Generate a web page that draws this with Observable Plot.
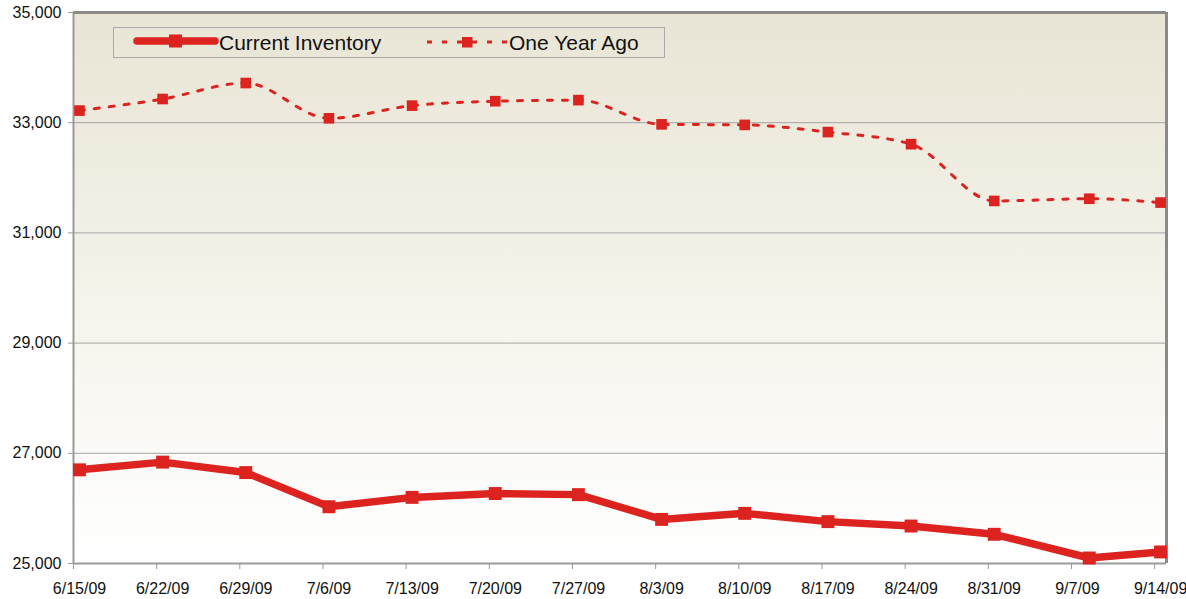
<!DOCTYPE html>
<html>
<head>
<meta charset="utf-8">
<script src="https://cdn.jsdelivr.net/npm/d3@7"></script>
<script src="https://cdn.jsdelivr.net/npm/@observablehq/plot@0.6"></script>
<style>
  html, body { margin: 0; padding: 0; background: #ffffff; }
  #wrap { position: relative; width: 1186px; height: 599px; font-family: "Liberation Sans", Arial, sans-serif; }
  #legend { position: absolute; left: 113px; top: 27px; width: 550px; height: 29px; border: 1px solid #a9a9a9; box-sizing: content-box; }
  .item { position: absolute; top: 0; height: 29px; display: flex; align-items: center; font-size: 21px; color: #111; }
  .item svg { display: block; }
</style>
</head>
<body>
<div id="wrap"></div>
<script>
// ---- data ----
const dates = ["2009-06-15","2009-06-22","2009-06-29","2009-07-06","2009-07-13","2009-07-20","2009-07-27",
               "2009-08-03","2009-08-10","2009-08-17","2009-08-24","2009-08-31","2009-09-08","2009-09-14"];
const currentInventory = [26700, 26840, 26650, 26030, 26200, 26270, 26250, 25800, 25910, 25760, 25680, 25530, 25100, 25210];
const oneYearAgo = [33220, 33430, 33720, 33080, 33310, 33390, 33410, 32970, 32960, 32830, 32610, 31580, 31620, 31550];
const tickDates = ["2009-06-15","2009-06-22","2009-06-29","2009-07-06","2009-07-13","2009-07-20","2009-07-27",
                   "2009-08-03","2009-08-10","2009-08-17","2009-08-24","2009-08-31","2009-09-07","2009-09-14"];
const tickLabels = ["6/15/09","6/22/09","6/29/09","7/6/09","7/13/09","7/20/09","7/27/09",
                    "8/3/09","8/10/09","8/17/09","8/24/09","8/31/09","9/7/09","9/14/09"];
const yTicks = [25000, 27000, 29000, 31000, 33000, 35000];
const gridTicks = [27000, 29000, 31000, 33000];
const xStart = "2009-06-15", xEnd = "2009-09-15";
const seriesNames = ["Current Inventory", "One Year Ago"];

const RED = "#dc231f";
const noon = d => new Date(d + "T12:00:00Z");
const cur = dates.map((d, i) => ({date: noon(d), value: currentInventory[i]}));
const ago = dates.map((d, i) => ({date: noon(d), value: oneYearAgo[i]}));
const ticks = tickDates.map(d => new Date(d + "T00:00:00Z"));
const labelOf = new Map(ticks.map((t, i) => [+t, tickLabels[i]]));
const d0 = new Date(xStart + "T00:00:00Z"), d1 = new Date(xEnd + "T00:00:00Z");

const chart = Plot.plot({
  width: 1186,
  height: 599,
  marginLeft: 73,
  marginRight: 20,
  marginTop: 12,
  marginBottom: 36,
  style: {fontFamily: '"Liberation Sans", Arial, sans-serif', fontSize: "16px", color: "#111", background: "transparent"},
  x: {type: "utc", domain: [d0, d1]},
  y: {domain: [25000, 35000]},
  marks: [
    Plot.frame({fill: "url(#bgGrad)", stroke: "none"}),
    Plot.gridY(gridTicks, {stroke: "#a3a3a3", strokeOpacity: 1, strokeWidth: 1}),
    Plot.ruleY([25000], {stroke: "#9a9a9a", strokeWidth: 2}),
    Plot.ruleX([d0], {stroke: "#9a9a9a", strokeWidth: 2}),
    Plot.ruleY([35000], {stroke: "#8a8a8a", strokeWidth: 3}),
    Plot.ruleX([d1], {stroke: "#8a8a8a", strokeWidth: 3}),
    Plot.axisY(yTicks, {tickSize: 5, tickPadding: 7, tickFormat: d3.format(","), stroke: "#999", fontSize: 16, label: null}),
    Plot.axisX(ticks, {tickSize: 6, tickFormat: () => "", stroke: "#999", label: null}),
    Plot.axisX(ticks, {tickSize: 0, tickPadding: 19, dx: 6, tickFormat: d => labelOf.get(+d), fontSize: 16, label: null}),
    Plot.line(ago, {x: "date", y: "value", stroke: RED, strokeWidth: 3, strokeDasharray: "5,10", curve: "monotone-x"}),
    Plot.dot(ago, {x: "date", y: "value", symbol: "square", r: 6, fill: RED, stroke: "none"}),
    Plot.line(cur, {x: "date", y: "value", stroke: RED, strokeWidth: 7.5, strokeLinejoin: "round"}),
    Plot.dot(cur, {x: "date", y: "value", symbol: "square", r: 7.3, fill: RED, stroke: "none"})
  ]
});

// gradient definition for plot background
const ns = "http://www.w3.org/2000/svg";
const defs = document.createElementNS(ns, "defs");
defs.innerHTML = '<linearGradient id="bgGrad" x1="0" y1="0" x2="0" y2="1">' +
  '<stop offset="0" stop-color="#e8e5d5"/><stop offset="0.55" stop-color="#f6f4ec"/><stop offset="1" stop-color="#ffffff"/></linearGradient>';
chart.insertBefore(defs, chart.firstChild);

const wrap = document.getElementById("wrap");
wrap.appendChild(chart);

// legend (inside plot area)
const legend = document.createElement("div");
legend.id = "legend";
legend.innerHTML =
  '<div class="item" style="left:19px">' +
    '<svg width="86" height="29"><line x1="4" y1="13" x2="82" y2="13" stroke="' + RED + '" stroke-width="7.5" stroke-linecap="round"/>' +
    '<rect x="36" y="6.5" width="13" height="13" fill="' + RED + '"/></svg>' +
    '<span style="margin-left:0px">' + seriesNames[0] + '</span></div>' +
  '<div class="item" style="left:312px">' +
    '<svg width="83" height="29"><line x1="1" y1="14" x2="82" y2="14" stroke="' + RED + '" stroke-width="3" stroke-dasharray="5,10"/>' +
    '<rect x="36" y="9" width="10.5" height="10.5" fill="' + RED + '"/></svg>' +
    '<span>' + seriesNames[1] + '</span></div>';
wrap.appendChild(legend);
</script>
</body>
</html>
